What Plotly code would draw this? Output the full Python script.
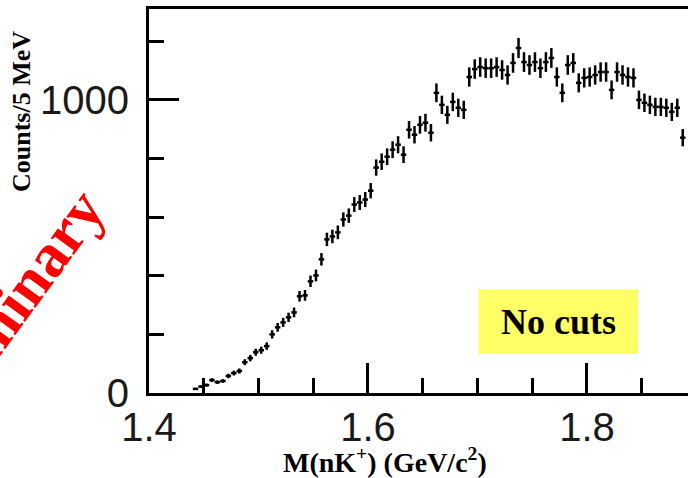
import plotly.graph_objects as go
import numpy as np

# bin centres (GeV/c^2), 5 MeV bins
mass = [1.4425, 1.4475, 1.4525, 1.4575, 1.4625, 1.4675, 1.4725, 1.4775, 1.4825, 1.4875,
        1.4925, 1.4975, 1.5025, 1.5075, 1.5125, 1.5175, 1.5225, 1.5275, 1.5325, 1.5375,
        1.5425, 1.5475, 1.5525, 1.5575, 1.5625, 1.5675, 1.5725, 1.5775, 1.5825, 1.5875,
        1.5925, 1.5975, 1.6025, 1.6075, 1.6125, 1.6175, 1.6225, 1.6275, 1.6325, 1.6375,
        1.6425, 1.6475, 1.6525, 1.6575, 1.6625, 1.6675, 1.6725, 1.6775, 1.6825, 1.6875,
        1.6925, 1.6975, 1.7025, 1.7075, 1.7125, 1.7175, 1.7225, 1.7275, 1.7325, 1.7375,
        1.7425, 1.7475, 1.7525, 1.7575, 1.7625, 1.7675, 1.7725, 1.7775, 1.7825, 1.7875,
        1.7925, 1.7975, 1.8025, 1.8075, 1.8125, 1.8175, 1.8225, 1.8275, 1.8325, 1.8375,
        1.8425, 1.8475, 1.8525, 1.8575, 1.8625, 1.8675, 1.8725, 1.8775, 1.8825, 1.8875]

counts = [14, 22, 27, 44, 37, 41, 58, 68, 75, 105,
          119, 139, 146, 160, 200, 224, 241, 258, 275, 330,
          333, 381, 401, 456, 524, 534, 548, 592, 605, 643,
          650, 660, 690, 769, 789, 806, 830, 847, 813, 898,
          881, 915, 922, 888, 1024, 983, 949, 993, 973, 966,
          1078, 1105, 1112, 1108, 1108, 1112, 1102, 1085, 1126, 1177,
          1129, 1119, 1129, 1108, 1129, 1143, 1078, 1024, 1119, 1126,
          1058, 1075, 1078, 1085, 1095, 1095, 1034, 1095, 1085, 1078,
          1075, 1000, 990, 983, 976, 976, 973, 959, 973, 871]

half_bin = 0.0025
x_ticks = [1.4, 1.6, 1.8]
x_ticklabels = ["1.4", "1.6", "1.8"]
y_ticks = [0, 1000]
y_ticklabels = ["0", "1000"]

errs = np.sqrt(np.array(counts, dtype=float))

fig = go.Figure()
fig.add_trace(go.Scatter(
    x=mass, y=counts, mode="markers",
    marker=dict(size=1, color="black", opacity=0),
    error_x=dict(type="constant", value=half_bin, color="black", thickness=2.5, width=0),
    error_y=dict(type="data", array=errs, color="black", thickness=2.5, width=0),
    showlegend=False, cliponaxis=True,
))

serif = "Liberation Serif"
sans = "Liberation Sans"

fig.update_layout(
    width=688, height=478,
    margin=dict(l=149, r=0, t=9, b=85),
    paper_bgcolor="white", plot_bgcolor="white",
    xaxis=dict(
        range=[1.4, 1.8923], showgrid=False, zeroline=False,
        showline=True, linecolor="black", linewidth=3, mirror=True,
        ticks="inside", ticklen=30, tickwidth=3, tickcolor="black",
        tickvals=x_ticks, ticktext=x_ticklabels,
        tickfont=dict(family=sans, size=40, color="#1a1a1a"),
        ticklabelstandoff=-3,
        minor=dict(dtick=0.05, tick0=1.4, ticks="inside", ticklen=15, tickwidth=3,
                   tickcolor="black", showgrid=False),
    ),
    yaxis=dict(
        range=[0, 1310], showgrid=False, zeroline=False,
        showline=True, linecolor="black", linewidth=3, mirror=False,
        ticks="inside", ticklen=30, tickwidth=3, tickcolor="black",
        tickvals=y_ticks, ticktext=y_ticklabels,
        tickfont=dict(family=sans, size=40, color="#1a1a1a"),
        ticklabelstandoff=9,
        minor=dict(dtick=200, tick0=0, ticks="inside", ticklen=15, tickwidth=3,
                   tickcolor="black", showgrid=False),
    ),
    shapes=[dict(type="rect", xref="x", yref="y", x0=1.701, x1=1.8466, y0=133, y1=354,
                 fillcolor="#FFFF66", line=dict(width=0), layer="above")],
    annotations=[
        dict(text="No cuts", xref="x", yref="y", x=1.7738, y=243, showarrow=False,
             xanchor="center", yanchor="middle",
             font=dict(family=serif, size=36, color="black", weight="bold")),
        dict(text="M(nK<sup>+</sup>) (GeV/c<sup>2</sup>)", xref="paper", yref="paper",
             x=(385 - 149) / 539, y=(393 - 460) / 384, showarrow=False,
             xanchor="center", yanchor="middle",
             font=dict(family=serif, size=28, color="black", weight="bold")),
        dict(text="Counts/5 MeV", xref="paper", yref="paper",
             x=(22 - 149) / 539, y=(393 - 112) / 384,
             textangle=-90, showarrow=False, xanchor="center", yanchor="middle",
             font=dict(family=serif, size=26, color="black", weight="bold")),
        dict(text="Preliminary", xref="paper", yref="paper",
             x=(-4 - 149) / 539, y=(393 - 326) / 384,
             textangle=-54, showarrow=False, xanchor="center", yanchor="middle",
             font=dict(family=serif, size=62, color="red", weight="bold")),
    ],
)

fig.write_html("out.html")
